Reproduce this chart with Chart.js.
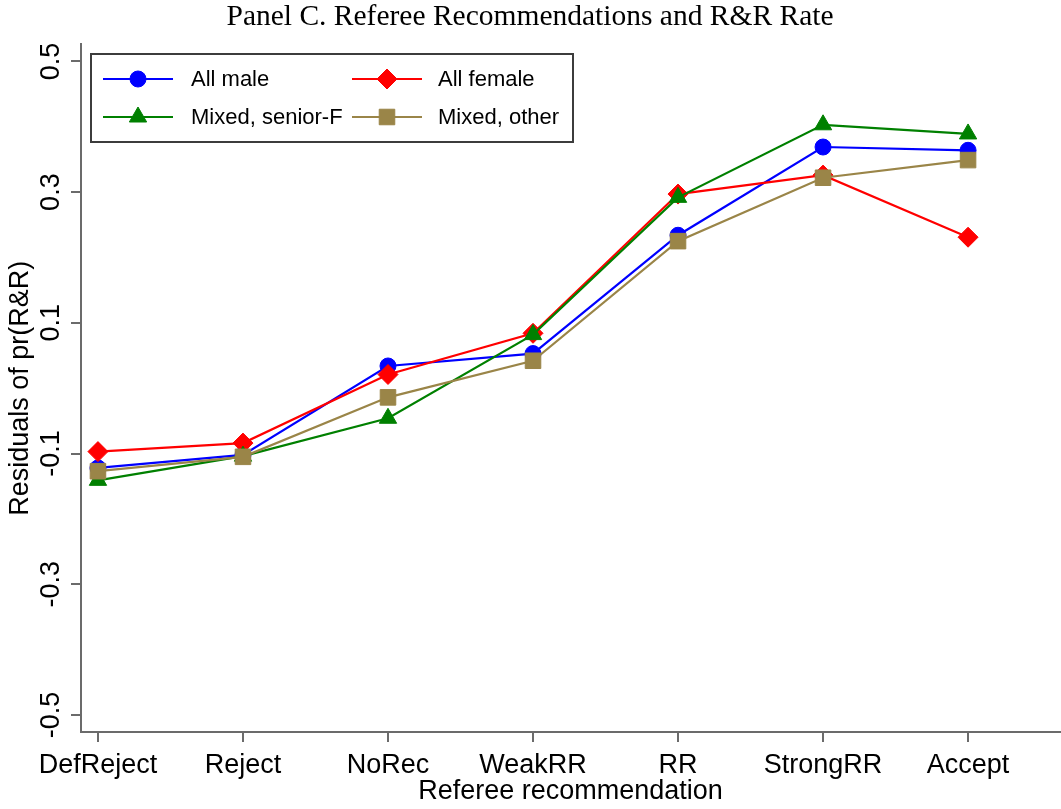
<!DOCTYPE html>
<html>
<head>
<meta charset="utf-8">
<script src="https://cdn.jsdelivr.net/npm/chart.js@4/dist/chart.umd.min.js"></script>
<style>
  html, body { margin: 0; padding: 0; background: #fff; overflow: hidden; }
  #wrap { width: 1061px; height: 809px; position: relative; overflow: hidden; }
</style>
</head>
<body>
<div id="wrap"><canvas id="chart"></canvas></div>
<script>
// --- data ---
const categories = ['DefReject', 'Reject', 'NoRec', 'WeakRR', 'RR', 'StrongRR', 'Accept'];
const yTicks = [-0.5, -0.3, -0.1, 0.1, 0.3, 0.5];

const allMale      = [-0.122, -0.102, 0.034, 0.053, 0.234, 0.369, 0.364];
const allFemale    = [-0.097, -0.084, 0.021, 0.084, 0.297, 0.326, 0.231];
const mixedSeniorF = [-0.141, -0.104, -0.046, 0.082, 0.292, 0.403, 0.389];
const mixedOther   = [-0.127, -0.105, -0.014, 0.042, 0.225, 0.322, 0.349];

const axisGray = '#6b6b6b';
Chart.defaults.font.family = 'Liberation Sans, Arial, sans-serif';
Chart.defaults.color = '#000';

const toPoints = arr => arr.map((v, i) => ({ x: i, y: v }));

function serie(label, values, color, style, radius, order) {
    return {
        label: label, data: toPoints(values), order: order,
        borderColor: color, backgroundColor: color, borderWidth: 2.2,
        pointStyle: style, pointRadius: radius, pointHoverRadius: radius,
        pointBackgroundColor: color, pointBorderColor: color, pointBorderWidth: 1,
        tension: 0, fill: false
    };
}

// rotated y tick labels + two-column legend box
const extras = {
    id: 'extras',
    afterDraw(chart) {
        const ctx = chart.ctx;
        const y = chart.scales.y;
        ctx.save();
        ctx.fillStyle = '#000';
        ctx.font = '27px Liberation Sans, Arial, sans-serif';
        ctx.textAlign = 'center';
        ctx.textBaseline = 'middle';
        yTicks.forEach(v => {
            ctx.save();
            ctx.translate(52, y.getPixelForValue(v));
            ctx.rotate(-Math.PI / 2);
            ctx.fillText(v.toFixed(1), 0, 0);
            ctx.restore();
        });

        // legend
        ctx.strokeStyle = '#3c3c3c';
        ctx.lineWidth = 2;
        ctx.strokeRect(91, 54, 482, 88);
        const colX = [103, 352];
        const txtX = [191, 438];
        const rowY = [79, 117];
        ctx.font = '22px Liberation Sans, Arial, sans-serif';
        ctx.textAlign = 'left';
        chart.data.datasets.forEach((ds, i) => {
            const c = i % 2, r = Math.floor(i / 2);
            const yy = rowY[r];
            ctx.strokeStyle = ds.borderColor;
            ctx.lineWidth = 2.2;
            ctx.beginPath();
            ctx.moveTo(colX[c], yy);
            ctx.lineTo(colX[c] + 70, yy);
            ctx.stroke();
            ctx.fillStyle = ds.pointBackgroundColor;
            ctx.strokeStyle = ds.pointBorderColor;
            ctx.lineWidth = 1;
            Chart.helpers.drawPoint(ctx, { pointStyle: ds.pointStyle, radius: ds.pointRadius, rotation: 0, borderWidth: 1 }, colX[c] + 35, yy);
            ctx.fillStyle = '#000';
            ctx.fillText(ds.label, txtX[c], yy + 1);
        });
        ctx.restore();
    }
};

new Chart(document.getElementById('chart'), {
    type: 'line',
    data: {
        datasets: [
            serie('All male', allMale, '#0000ff', 'circle', 8, 4),
            serie('All female', allFemale, '#ff0000', 'rectRot', 10, 3),
            serie('Mixed, senior-F', mixedSeniorF, '#008000', 'triangle', 10, 2),
            serie('Mixed, other', mixedOther, '#9a8548', 'rect', 11, 1)
        ]
    },
    options: {
        responsive: true, maintainAspectRatio: false, animation: false,
        layout: { autoPadding: false, padding: { left: 0, right: 1, top: 0, bottom: 0 } },
        plugins: {
            legend: { display: false },
            tooltip: { enabled: false },
            title: {
                display: true, text: 'Panel C. Referee Recommendations and R&R Rate',
                color: '#000', font: { family: 'Liberation Serif, Times New Roman, serif', size: 29.5, weight: 'normal' },
                padding: { top: 0, bottom: 9 }
            }
        },
        scales: {
            x: {
                type: 'linear', min: -0.117, max: 6.634,
                afterBuildTicks: s => { s.ticks = categories.map((c, i) => ({ value: i })); },
                afterFit: s => { s.height = 77; s.paddingLeft = 0; s.paddingRight = 0; },
                ticks: {
                    autoSkip: false, maxRotation: 0, padding: 10,
                    font: { size: 27, lineHeight: 1 }, color: '#000',
                    callback: v => categories[v]
                },
                grid: { display: true, drawOnChartArea: false, drawTicks: true, tickLength: 10, color: axisGray, lineWidth: 2 },
                border: { display: true, color: axisGray, width: 2 },
                title: {
                    display: true, text: 'Referee recommendation', color: '#000',
                    font: { size: 27, lineHeight: 1 }, padding: { top: 0, bottom: 4 }
                }
            },
            y: {
                min: -0.526, max: 0.526,
                afterBuildTicks: s => { s.ticks = yTicks.map(v => ({ value: v })); },
                afterFit: s => { s.width = 81; },
                ticks: { display: false },
                grid: { display: true, drawOnChartArea: false, drawTicks: true, tickLength: 10, color: axisGray, lineWidth: 2 },
                border: { display: true, color: axisGray, width: 2 },
                title: {
                    display: true, text: 'Residuals of pr(R&R)', color: '#000',
                    font: { size: 27, lineHeight: 1 }, padding: { top: 7, bottom: 37 }
                }
            }
        }
    },
    plugins: [extras]
});
</script>
</body>
</html>
